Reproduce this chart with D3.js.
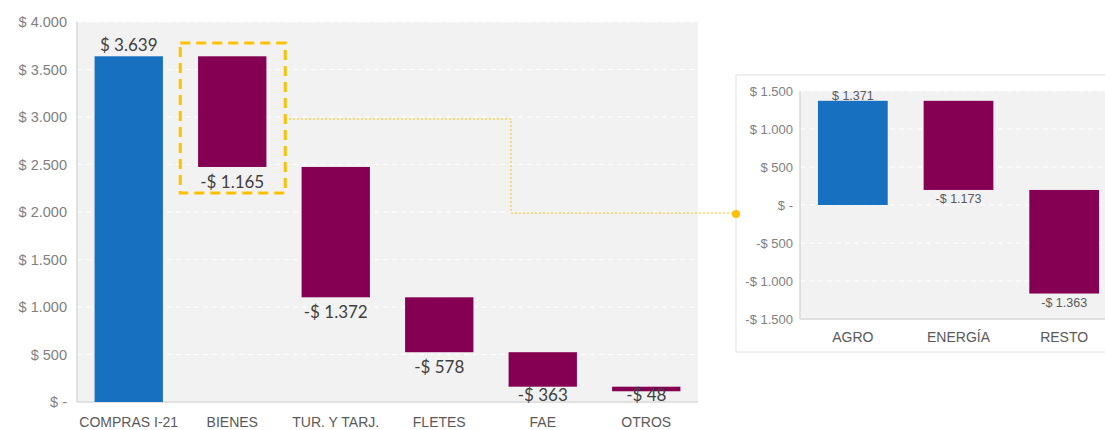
<!DOCTYPE html>
<html>
<head>
<meta charset="utf-8">
<script src="https://cdn.jsdelivr.net/npm/d3@7"></script>
<style>
  html, body { margin: 0; padding: 0; background: #fff; }
  svg { display: block; }
  .tick-label { font-family: "Liberation Sans", Arial, sans-serif; fill: #808080; }
  .cat-label  { font-family: "Liberation Sans Narrow", "Liberation Sans", Arial, sans-serif; fill: #595959; }
</style>
</head>
<body>
<svg id="chart" width="1105" height="430"></svg>
<script>
// ── Data ──────────────────────────────────────────────────────────────────────
const mainCategories = ['COMPRAS I-21', 'BIENES', 'TUR. Y TARJ.', 'FLETES', 'FAE', 'OTROS'];
const mainValues     = [3639, -1165, -1372, -578, -363, -48];
const mainTicks      = [0, 500, 1000, 1500, 2000, 2500, 3000, 3500, 4000];

const zoomCategories = ['AGRO', 'ENERGÍA', 'RESTO'];
const zoomValues     = [1371, -1173, -1363];
const zoomTicks      = [-1500, -1000, -500, 0, 500, 1000, 1500];

const BLUE = '#1870c0', PLUM = '#850052', GOLD = '#ffc000';

// "$ 3.639" / "-$ 1.165" / "$ -"
const money = v => v === 0 ? '$ -'
  : (v < 0 ? '-' : '') + '$ ' + d3.format(',')(Math.abs(v)).replace(/,/g, '.');

// running totals for a waterfall
function steps(values) {
  let run = 0;
  return values.map(v => {
    const start = run;
    run += v;
    return { v, start, end: run };
  });
}

const svg = d3.select('#chart');

// ── Main waterfall ────────────────────────────────────────────────────────────
const mx = d3.scalePoint().domain(mainCategories).range([77, 698]).padding(0.5);
const my = d3.scaleLinear().domain([0, 4000]).range([402, 22]);
const mBar = mx.step() * 0.66;

svg.append('rect')
  .attr('x', 77).attr('y', 22).attr('width', 698 - 77).attr('height', 402 - 22)
  .attr('fill', '#f2f2f2');

svg.append('g').selectAll('line').data(mainTicks.filter(t => t > 0)).join('line')
  .attr('x1', 77).attr('x2', 698)
  .attr('y1', d => my(d)).attr('y2', d => my(d))
  .attr('stroke', '#fff').attr('stroke-width', 1.2).attr('stroke-dasharray', '5,4');

svg.append('g').selectAll('text').data(mainTicks).join('text')
  .attr('class', 'tick-label')
  .attr('x', 67).attr('y', d => my(d)).attr('dy', '0.35em')
  .attr('text-anchor', 'end').attr('font-size', 14.5)
  .text(money);

svg.append('line').attr('x1', 77).attr('x2', 698).attr('y1', 402).attr('y2', 402)
  .attr('stroke', '#d9d9d9').attr('stroke-width', 1.5);
svg.append('line').attr('x1', 77).attr('x2', 77).attr('y1', 22).attr('y2', 402)
  .attr('stroke', '#d9d9d9').attr('stroke-width', 1.5);

const mainSteps = steps(mainValues);
svg.append('g').selectAll('rect').data(mainSteps).join('rect')
  .attr('x', (d, i) => mx(mainCategories[i]) - mBar / 2)
  .attr('width', mBar)
  .attr('y', d => my(Math.max(d.start, d.end)))
  .attr('height', d => Math.max(3, Math.abs(my(d.start) - my(d.end))))
  .attr('fill', (d, i) => i === 0 ? BLUE : PLUM);

svg.append('g').selectAll('text').data(mainSteps).join('text')
  .attr('x', (d, i) => mx(mainCategories[i]))
  .attr('y', d => d.v > 0 ? my(d.end) - 11 : Math.min(my(d.end) + 15, 395))
  .attr('dy', '0.35em')
  .attr('text-anchor', 'middle')
  .attr('font-family', 'Lato, "Open Sans", sans-serif')
  .attr('font-size', 17).attr('fill', '#404040')
  .text(d => money(d.v));

svg.append('g').selectAll('text').data(mainCategories).join('text')
  .attr('class', 'cat-label')
  .attr('x', d => mx(d)).attr('y', 422).attr('dy', '0.35em')
  .attr('text-anchor', 'middle').attr('font-size', 14)
  .text(d => d);

// highlight box around BIENES
svg.append('rect')
  .attr('x', mx('BIENES') - 52).attr('y', 43).attr('width', 105).attr('height', 150)
  .attr('fill', 'none').attr('stroke', GOLD).attr('stroke-width', 3)
  .attr('stroke-dasharray', '10,6');

// ── Detail panel ──────────────────────────────────────────────────────────────
const zx = d3.scalePoint().domain(zoomCategories).range([800, 1117]).padding(0.5);
const zy = d3.scaleLinear().domain([-1500, 1500]).range([319, 91]);
const zBar = zx.step() * 0.66;

svg.append('rect')
  .attr('x', 736).attr('y', 75).attr('width', 380).attr('height', 277)
  .attr('fill', '#fff').attr('stroke', '#ececec').attr('stroke-width', 1.5);

svg.append('rect')
  .attr('x', 800).attr('y', 91).attr('width', 310).attr('height', 319 - 91)
  .attr('fill', '#f2f2f2');

svg.append('g').selectAll('line').data(zoomTicks.filter(t => t > -1500)).join('line')
  .attr('x1', 800).attr('x2', 1105)
  .attr('y1', d => zy(d)).attr('y2', d => zy(d))
  .attr('stroke', '#fff').attr('stroke-width', 1.2).attr('stroke-dasharray', '5,4');

svg.append('line').attr('x1', 800).attr('x2', 1105).attr('y1', 319).attr('y2', 319)
  .attr('stroke', '#d9d9d9').attr('stroke-width', 1.5);
svg.append('line').attr('x1', 800).attr('x2', 800).attr('y1', 91).attr('y2', 319)
  .attr('stroke', '#d9d9d9').attr('stroke-width', 1.5);

svg.append('g').selectAll('text').data(zoomTicks).join('text')
  .attr('class', 'tick-label')
  .attr('x', 793).attr('y', d => zy(d)).attr('dy', '0.35em')
  .attr('text-anchor', 'end').attr('font-size', 13)
  .text(money);

const zoomSteps = steps(zoomValues);
svg.append('g').selectAll('rect').data(zoomSteps).join('rect')
  .attr('x', (d, i) => zx(zoomCategories[i]) - zBar / 2)
  .attr('width', zBar)
  .attr('y', d => zy(Math.max(d.start, d.end)))
  .attr('height', d => Math.abs(zy(d.start) - zy(d.end)))
  .attr('fill', (d, i) => i === 0 ? BLUE : PLUM);

svg.append('g').selectAll('text').data(zoomSteps).join('text')
  .attr('x', (d, i) => zx(zoomCategories[i]))
  .attr('y', d => d.v > 0 ? zy(d.end) - 5 : zy(d.end) + 9)
  .attr('dy', '0.35em')
  .attr('text-anchor', 'middle')
  .attr('font-family', '"Liberation Sans", Arial, sans-serif')
  .attr('font-size', 12.5).attr('fill', '#595959')
  .text(d => money(d.v));

svg.append('g').selectAll('text').data(zoomCategories).join('text')
  .attr('class', 'cat-label')
  .attr('x', d => zx(d)).attr('y', 337).attr('dy', '0.35em')
  .attr('text-anchor', 'middle').attr('font-size', 14)
  .text(d => d);

// ── Connector from highlight box to detail panel ─────────────────────────────
svg.append('path')
  .attr('d', 'M285,119 H511 V213 H735')
  .attr('fill', 'none').attr('stroke', GOLD).attr('stroke-width', 1)
  .attr('stroke-dasharray', '2,2');
svg.append('circle').attr('cx', 736).attr('cy', 214).attr('r', 4).attr('fill', GOLD);
</script>
</body>
</html>
